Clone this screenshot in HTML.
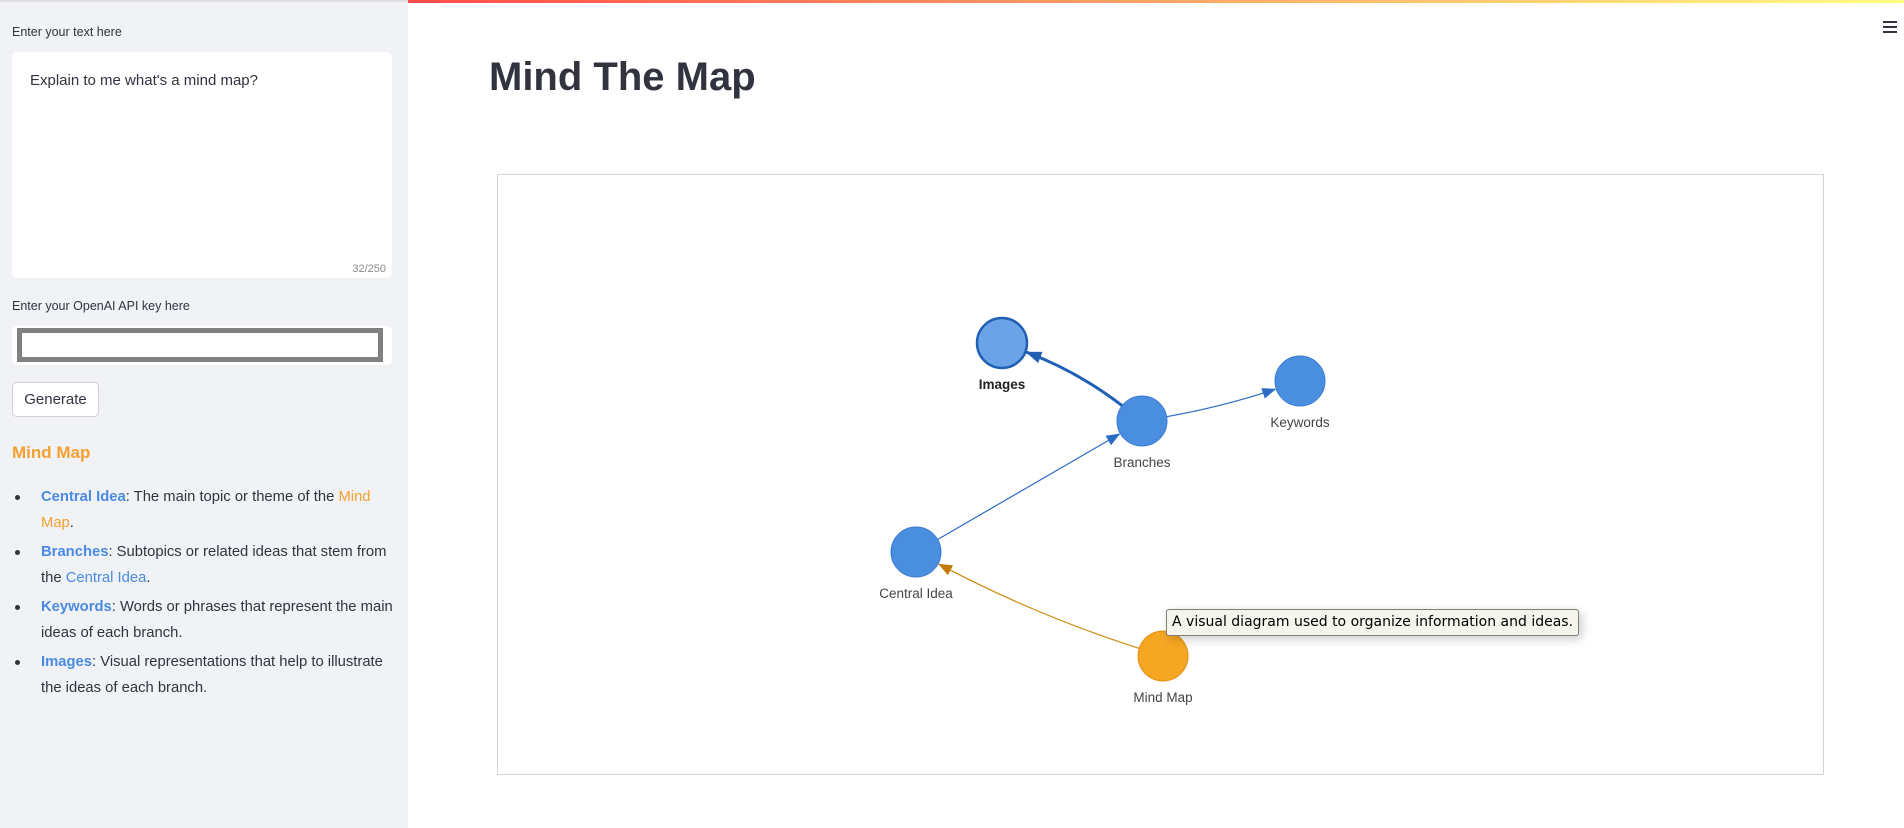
<!DOCTYPE html>
<html><head><meta charset="utf-8">
<style>
*{box-sizing:border-box;margin:0;padding:0}
body{width:1904px;height:828px;overflow:hidden;background:#fff;font-family:"Liberation Sans",sans-serif;position:relative;color:#31333f}
#sidebar{position:absolute;left:0;top:0;width:408px;height:828px;background:#f0f2f6;border-top:2px solid #e0e0e0}
.lbl{position:absolute;left:12px;font-size:12.5px;color:#31333f}
#ta{position:absolute;left:12px;top:50px;width:380px;height:226px;background:#fff;border-radius:5px}
#ta span{position:absolute;left:18px;top:20px;font-size:15px}
#cnt{position:absolute;right:6px;bottom:3px;font-size:11px;color:#888}
#pw{position:absolute;left:12px;top:324px;width:380px;height:39px;background:#fff;border-radius:5px}
#pw div{position:absolute;left:5px;top:2px;width:366px;height:34px;border:5px solid #808080;background:#fff}
#gen{position:absolute;left:12px;top:380px;width:87px;height:35px;border:1px solid #d0d0d4;border-radius:5px;background:#fff;font-size:15px;text-align:center;line-height:33px;color:#31333f}
#mmh{position:absolute;left:12px;top:441px;font-size:17px;font-weight:bold;color:#f5a030}
ul{position:absolute;left:41px;top:482px;width:355px;font-size:14.8px;line-height:26px;list-style:none}
li{position:relative;margin-bottom:3px}
li:before{content:"";position:absolute;left:-26px;top:11px;width:5px;height:5px;border-radius:50%;background:#31333f}
.b{color:#4a8ae0;font-weight:bold}.bl{color:#4a8ae0}.o{color:#f5a030}
#bar{position:absolute;left:408px;top:0;width:1496px;height:3px;background:linear-gradient(90deg,#ff4b4b,#fffd80)}
#title{position:absolute;left:489px;top:55px;font-size:40px;font-weight:bold;color:#31333f}
#frame{position:absolute;left:497px;top:174px;width:1327px;height:601px;border:1px solid #d3d3d3}
#menu{position:absolute;left:1883px;top:21px;width:14px}
#menu i{display:block;height:2px;background:#31333f;margin-bottom:3px}
#tip{position:absolute;left:1166px;top:609px;width:413px;height:27px;background:#f5f4ed;border:1px solid #808074;border-radius:3px;box-shadow:3px 3px 10px rgba(0,0,0,.2);font-family:"DejaVu Sans",sans-serif;font-size:14px;line-height:25px;padding-left:5px;color:#000;white-space:nowrap}
</style></head><body>
<div id="sidebar">
 <div class="lbl" style="top:23px">Enter your text here</div>
 <div id="ta"><span>Explain to me what's a mind map?</span><div id="cnt">32/250</div></div>
 <div class="lbl" style="top:297px">Enter your OpenAI API key here</div>
 <div id="pw"><div></div></div>
 <div id="gen">Generate</div>
 <div id="mmh">Mind Map</div>
 <ul>
  <li><span class="b">Central Idea</span>: The main topic or theme of the <span class="o">Mind Map</span>.</li>
  <li><span class="b">Branches</span>: Subtopics or related ideas that stem from the <span class="bl">Central Idea</span>.</li>
  <li><span class="b">Keywords</span>: Words or phrases that represent the main ideas of each branch.</li>
  <li><span class="b">Images</span>: Visual representations that help to illustrate the ideas of each branch.</li>
 </ul>
</div>
<div id="bar"></div>
<div id="menu"><i></i><i></i><i></i></div>
<div id="title">Mind The Map</div>
<div id="frame"></div>
<svg id="g" width="1904" height="828" style="position:absolute;left:0;top:0">
<defs>
<marker id="ab" markerWidth="14" markerHeight="11" refX="13" refY="5.5" orient="auto" markerUnits="userSpaceOnUse"><path d="M0,0L14,5.5L0,11z" fill="#2a6bc4"/></marker>
<marker id="ab2" markerWidth="16" markerHeight="12" refX="15" refY="6" orient="auto" markerUnits="userSpaceOnUse"><path d="M0,0L16,6L0,12z" fill="#1f5fb5"/></marker>
<marker id="ao" markerWidth="14" markerHeight="11" refX="13" refY="5.5" orient="auto" markerUnits="userSpaceOnUse"><path d="M0,0L14,5.5L0,11z" fill="#c47a00"/></marker>
</defs>
</svg>
<div id="tip">A visual diagram used to organize information and ideas.</div>
<script>
const nodeLabels=["Images","Branches","Keywords","Central Idea","Mind Map"];
const nodeX=[1002,1142,1300,916,1163];
const nodeY=[343,421,381,552,656];
const edgeFrom=[1,1,3,4];
const edgeTo=[0,2,1,3];
const edgeBend=[12,6,0,-12];
const svg=document.getElementById('g');
const NS='http://www.w3.org/2000/svg';
const R=25;
edgeFrom.forEach((f,i)=>{
  const t=edgeTo[i];
  const x1=nodeX[f],y1=nodeY[f],x2=nodeX[t],y2=nodeY[t];
  const dx=x2-x1,dy=y2-y1,L=Math.hypot(dx,dy);
  const mx=(x1+x2)/2-dy/L*edgeBend[i],my=(y1+y2)/2+dx/L*edgeBend[i];
  let ax=mx-x1,ay=my-y1,al=Math.hypot(ax,ay);
  let bx=mx-x2,by=my-y2,bl=Math.hypot(bx,by);
  const sx=x1+ax/al*R,sy=y1+ay/al*R,ex=x2+bx/bl*(R+1),ey=y2+by/bl*(R+1);
  const p=document.createElementNS(NS,'path');
  
  
  p.setAttribute('d',`M${sx},${sy}Q${mx},${my} ${ex},${ey}`);
  p.setAttribute('fill','none');
  const orange=f===4, thick=t===0;
  p.setAttribute('stroke',orange?'#d08a10':(thick?'#1f5fb5':'#2a6bc4'));
  p.setAttribute('stroke-width',thick?3:1.2);
  p.setAttribute('marker-end',orange?'url(#ao)':(thick?'url(#ab2)':'url(#ab)'));
  svg.appendChild(p);
});
nodeLabels.forEach((lab,i)=>{
  const c=document.createElementNS(NS,'circle');
  
  
  c.setAttribute('cx',nodeX[i]);c.setAttribute('cy',nodeY[i]);c.setAttribute('r',R);
  const orange=i===4, sel=i===0;
  c.setAttribute('fill',orange?'#f5a623':(sel?'#6aa3e6':'#4a8ee0'));
  c.setAttribute('stroke',orange?'#e09010':(sel?'#1f5fb5':'#3a7cd0'));
  c.setAttribute('stroke-width',sel?2.5:1);
  svg.appendChild(c);
  const tx=document.createElementNS(NS,'text');
  
  
  tx.setAttribute('x',nodeX[i]);tx.setAttribute('y',nodeY[i]+R+21);
  tx.setAttribute('text-anchor','middle');
  tx.setAttribute('font-family','Liberation Sans, sans-serif');
  tx.setAttribute('font-size','13.5');
  tx.setAttribute('fill',sel?'#222':'#444');
  if(sel)tx.setAttribute('font-weight','bold');
  tx.textContent=lab;
  svg.appendChild(tx);
});
</script>
</body></html>
